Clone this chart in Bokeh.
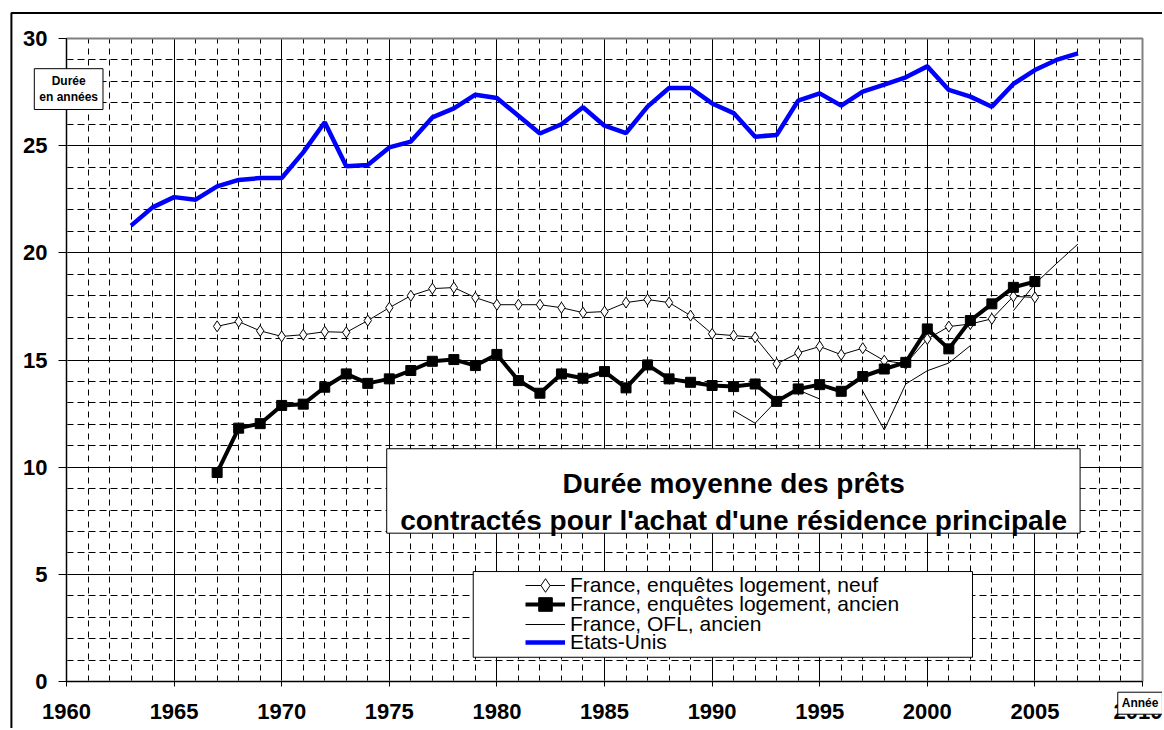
from bokeh.plotting import figure
from bokeh.models import (Legend, LegendItem, Label, BoxAnnotation, FixedTicker, Range1d)
from bokeh.embed import file_html
from bokeh.resources import INLINE

# ---------------- data ----------------
us_years = list(range(1963, 2008))
us_values = [21.27, 22.12, 22.6, 22.48, 23.1, 23.4, 23.49, 23.49, 24.69, 26.09,
             24.04, 24.1, 24.92, 25.19, 26.32, 26.74, 27.38, 27.22, 26.4, 25.57,
             26.0, 26.79, 25.93, 25.59, 26.82, 27.69, 27.69, 26.97, 26.52, 25.42,
             25.5, 27.1, 27.44, 26.87, 27.52, 27.85, 28.19, 28.7, 27.6, 27.29,
             26.82, 27.88, 28.53, 29.0, 29.31]

fr_years = list(range(1967, 2006))
fr_neuf = [16.57, 16.79, 16.36, 16.1, 16.18, 16.32, 16.29,
           16.84, 17.44, 18.0, 18.33, 18.38, 17.91, 17.58, 17.58, 17.58, 17.44,
           17.21, 17.26, 17.68, 17.82, 17.68, 17.07,
           16.22, 16.14, 16.06, 14.82, 15.33, 15.63, 15.25, 15.55, 14.97, 14.82,
           15.98, 16.56, 16.68, 16.92, 17.97, 17.92]
fr_ancien = [9.75, 11.82, 12.03, 12.88, 12.94, 13.73, 14.35, 13.91, 14.12, 14.51,
             14.94, 15.02, 14.74, 15.26,
             14.04, 13.45, 14.35, 14.15, 14.46, 13.7, 14.77, 14.12, 13.96, 13.81,
             13.76, 13.88, 13.07, 13.65, 13.85, 13.54,
             14.23, 14.58, 14.89, 16.45, 15.52, 16.84, 17.62, 18.39, 18.66]

nan = float("nan")
ofl_years = list(range(1991, 2008))
ofl_values = [12.64, 12.05, 13.1, 13.6, 13.18, nan, 13.55, 11.74, 13.88, 14.5,
              14.86, 15.67, nan, 17.3, 18.55, 19.5, 20.41]

x_ticks = [1960, 1965, 1970, 1975, 1980, 1985, 1990, 1995, 2000, 2005, 2010]
x_minor = list(range(1960, 2011))
y_ticks = [0, 5, 10, 15, 20, 25, 30]
y_minor = list(range(0, 31))

series_labels = ["France, enquêtes logement, neuf",
                 "France, enquêtes logement, ancien",
                 "France, OFL, ancien",
                 "Etats-Unis"]
title_lines = ["Durée moyenne des prêts",
               "contractés pour l'achat d'une résidence principale"]
y_title = "Durée\nen années"
x_title = "Année"

FONT = "Liberation Sans"

# ---------------- layout (pixels) ----------------
W, H = 1162, 728
FRAME_LEFT, FRAME_BOTTOM = 66, 681          # where 1960 / 0 sit on the canvas
PX_YEAR, PX_UNIT = 21.52, 21.433
x0 = x_ticks[0] - FRAME_LEFT / PX_YEAR
y0 = y_ticks[0] - (H - FRAME_BOTTOM) / PX_UNIT

p = figure(width=W, height=H, output_backend="svg", toolbar_location=None,
           x_range=Range1d(x0, x0 + W / PX_YEAR),
           y_range=Range1d(y0, y0 + H / PX_UNIT),
           min_border_left=0, min_border_right=0, min_border_top=0,
           min_border_bottom=0)
p.background_fill_color = "white"
p.border_fill_color = "white"
p.outline_line_color = None

p.xaxis.ticker = FixedTicker(ticks=x_ticks, minor_ticks=x_minor)
p.yaxis.ticker = FixedTicker(ticks=y_ticks, minor_ticks=y_minor)
p.xaxis.fixed_location = y_ticks[0]
p.yaxis.fixed_location = x_ticks[0]
p.xaxis.bounds = (x_ticks[0], x_ticks[-1])
p.yaxis.bounds = (y_ticks[0], y_ticks[-1])

for ax in (p.xaxis, p.yaxis):
    ax.axis_line_color = "black"
    ax.axis_line_width = 1
    ax.major_tick_in = 0
    ax.minor_tick_in = 0
    ax.minor_tick_out = 0
    ax.major_tick_line_color = "black"
    ax.major_label_text_font = FONT
    ax.major_label_text_font_style = "bold"
    ax.major_label_text_font_size = "22px"
    ax.major_label_text_color = "black"
p.xaxis.major_tick_out = 5
p.yaxis.major_tick_out = 8
p.xaxis.major_label_standoff = 17
p.yaxis.major_label_standoff = 11

for g in (p.xgrid, p.ygrid):
    g.grid_line_color = "black"
    g.grid_line_width = 1
    g.grid_line_alpha = 1
    g.minor_grid_line_color = "black"
    g.minor_grid_line_width = 1
    g.minor_grid_line_alpha = 1
p.xgrid.minor_grid_line_dash = "6 5"
p.ygrid.minor_grid_line_dash = "7 4"
p.xgrid.bounds = (x_ticks[0], x_ticks[-1])
p.xgrid.cross_bounds = (y_ticks[0], y_ticks[-1])
p.ygrid.bounds = (y_ticks[0], y_ticks[-1])
p.ygrid.cross_bounds = (x_ticks[0], x_ticks[-1])

# plot-area border
p.add_layout(BoxAnnotation(left=x_ticks[0], right=x_ticks[-1], bottom=y_ticks[0],
                           top=y_ticks[-1], fill_alpha=0, line_color="#808080",
                           line_alpha=1, line_width=2, level="underlay"))

# ---------------- series ----------------
r_neuf_l = p.line(fr_years, fr_neuf, line_color="black", line_width=1)
r_neuf_m = p.scatter(fr_years, fr_neuf, marker="diamond", size=11,
                     fill_color="white", line_color="black", line_width=1)
r_anc_l = p.line(fr_years, fr_ancien, line_color="black", line_width=4)
r_anc_m = p.scatter(fr_years, fr_ancien, marker="square", size=10,
                    fill_color="black", line_color="black")
r_ofl = p.line(ofl_years, ofl_values, line_color="black", line_width=1)
r_us = p.line(us_years, us_values, line_color="#0000FF", line_width=4.5)

# ---------------- outer border ----------------
p.add_layout(BoxAnnotation(left=1957.44, right=2020, top=31.19, bottom=-10,
                           fill_alpha=0, line_color="black", line_alpha=1,
                           line_width=2))

# ---------------- title box ----------------
p.add_layout(BoxAnnotation(left=1974.88, right=2007.1, top=10.86, bottom=6.92,
                           fill_color="white", fill_alpha=1, line_color="black",
                           line_alpha=1, line_width=1))
for txt, yy in zip(title_lines, [9.24, 7.51]):
    p.add_layout(Label(x=1991.0, y=yy, text=txt, text_align="center",
                       text_baseline="alphabetic", text_font=FONT,
                       text_font_style="bold", text_font_size="28px",
                       text_color="black"))

# ---------------- legend ----------------
p.add_layout(BoxAnnotation(left=1978.9, right=2002.1, top=5.13, bottom=1.13,
                           fill_color="white", fill_alpha=1, line_color="black",
                           line_alpha=1, line_width=1))
ROW_H = 34
row_centers = [143, 123.7, 104, 86.3]      # px above the canvas bottom
row_renderers = [[r_neuf_l, r_neuf_m], [r_anc_l, r_anc_m], [r_ofl], [r_us]]
for lab, rends, cy in zip(series_labels, row_renderers, row_centers):
    leg = Legend(items=[LegendItem(label=lab, renderers=rends)],
                 location=(525, cy - ROW_H / 2), orientation="vertical",
                 padding=0, margin=0, spacing=0,
                 glyph_width=40, glyph_height=ROW_H, label_height=ROW_H,
                 label_standoff=5,
                 label_text_font=FONT, label_text_font_size="21px",
                 label_text_color="black", label_text_baseline="middle",
                 border_line_alpha=0, background_fill_alpha=0)
    p.add_layout(leg)

# ---------------- axis titles ----------------
p.add_layout(Label(x=1960.1, y=27.64, text=y_title, text_align="center",
                   text_baseline="middle", text_font=FONT, text_font_style="bold",
                   text_font_size="12px", text_color="black",
                   background_fill_color="white", border_line_color="black",
                   border_line_width=1, padding=5))
p.add_layout(Label(x=2008.85, y=-0.5, text=x_title, text_align="left",
                   text_baseline="top", text_font=FONT, text_font_style="bold",
                   text_font_size="12px", text_color="black",
                   background_fill_color="white", border_line_color="black",
                   border_line_width=1, padding=4))

open("out.html", "w").write(file_html(p, INLINE))
